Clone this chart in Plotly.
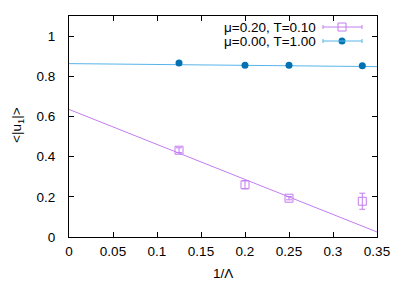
import plotly.graph_objects as go

# data
x_pts = [0.125, 0.2, 0.25, 0.3333]
mu020_y = [0.432, 0.260, 0.193, 0.178]
mu020_err = [0.012, 0.020, 0.008, 0.040]
mu000_y = [0.866, 0.855, 0.855, 0.852]
mu000_err = [0.004, 0.004, 0.004, 0.004]
fit_x = [0.0, 0.35]
fit020_y = [0.635, 0.025]
fit000_y = [0.863, 0.848]
labels = ["μ=0.20, T=0.10", "μ=0.00, T=1.00"]
x_title = "1/Λ"
y_title = "&lt;|u<sub>1</sub>|&gt;"

purple_l = "#c27cf0"
blue = "#0072b2"
blue_l = "#56b4e9"
font = dict(family="Liberation Sans, Arial, sans-serif", size=13.5, color="black")

fig = go.Figure()
fig.add_trace(go.Scatter(x=fit_x, y=fit020_y, mode="lines",
                         line=dict(color=purple_l, width=1), hoverinfo="skip"))
fig.add_trace(go.Scatter(x=fit_x, y=fit000_y, mode="lines",
                         line=dict(color=blue_l, width=1), hoverinfo="skip"))
fig.add_trace(go.Scatter(x=x_pts, y=mu020_y, mode="markers",
                         marker=dict(symbol="square-open", size=8, color=purple_l,
                                     line=dict(width=1, color=purple_l)),
                         error_y=dict(type="data", array=mu020_err, color=purple_l,
                                      thickness=1, width=3)))
fig.add_trace(go.Scatter(x=x_pts, y=mu000_y, mode="markers",
                         marker=dict(symbol="circle", size=7, color=blue),
                         error_y=dict(type="data", array=mu000_err, color=blue_l,
                                      thickness=1, width=3)))

# page has an 8px body margin; size the figure so the plot box lands at
# page x 69..377, y 16..237 as in the reference
OFF = 8
W, H = 403 - OFF, 282 - OFF
PX0, PX1, PY0, PY1 = 69, 377, 16, 237
L, T = PX0 - OFF, PY0 - OFF
R, B = W - (PX1 - OFF), H - (PY1 - OFF)
pw, ph = PX1 - PX0, PY1 - PY0
def px(xp):
    return (xp - PX0) / pw
def py(yp):
    return (PY1 - yp) / ph

leg_rows = [27, 41]
leg_cols = [purple_l, blue_l]
shapes = []
annotations = []
for lab, yy, col in zip(labels, leg_rows, leg_cols):
    annotations.append(dict(x=px(318), y=py(yy), xref="paper", yref="paper",
                            text=lab, showarrow=False, xanchor="right",
                            yanchor="middle", font=font))
    shapes.append(dict(type="line", xref="paper", yref="paper",
                       x0=px(323), x1=px(362), y0=py(yy), y1=py(yy),
                       line=dict(color=col, width=1)))
    for xe in (323, 362):
        shapes.append(dict(type="line", xref="paper", yref="paper",
                           x0=px(xe), x1=px(xe), y0=py(yy - 2), y1=py(yy + 2),
                           line=dict(color=col, width=1)))

# axis titles
annotations.append(dict(x=px(223), y=py(273), xref="paper", yref="paper",
                        text=x_title, showarrow=False, xanchor="center",
                        yanchor="middle", font=font))
annotations.append(dict(x=px(17), y=py(125), xref="paper", yref="paper",
                        text=y_title, showarrow=False, xanchor="center",
                        yanchor="middle", textangle=-90, font=font))

fig.add_trace(go.Scatter(x=[px(342)], y=[py(leg_rows[0])], xaxis="x2", yaxis="y2",
                         mode="markers", hoverinfo="skip",
                         marker=dict(symbol="square-open", size=8, color=purple_l)))
fig.add_trace(go.Scatter(x=[px(342)], y=[py(leg_rows[1])], xaxis="x2", yaxis="y2",
                         mode="markers", hoverinfo="skip",
                         marker=dict(symbol="circle", size=7, color=blue)))

axis_common = dict(showgrid=False, zeroline=False, showline=True, linecolor="black",
                   linewidth=1, mirror="ticks", ticks="inside", ticklen=5,
                   tickcolor="black", tickfont=font, automargin=False)
fig.update_layout(
    width=W, height=H, margin=dict(l=L, r=R, t=T, b=B, pad=0),
    paper_bgcolor="white", plot_bgcolor="white", showlegend=False,
    font=font,
    xaxis=dict(range=[0, 0.35], dtick=0.05, tickformat="~g",
               ticklabelstandoff=2, **axis_common),
    yaxis=dict(range=[0, 1.1], dtick=0.2, tickformat="~g",
               ticklabelstandoff=10, **axis_common),
    xaxis2=dict(range=[0, 1], overlaying="x", visible=False, automargin=False),
    yaxis2=dict(range=[0, 1], overlaying="y", visible=False, automargin=False),
    shapes=shapes, annotations=annotations,
)
fig.write_html("out.html")
